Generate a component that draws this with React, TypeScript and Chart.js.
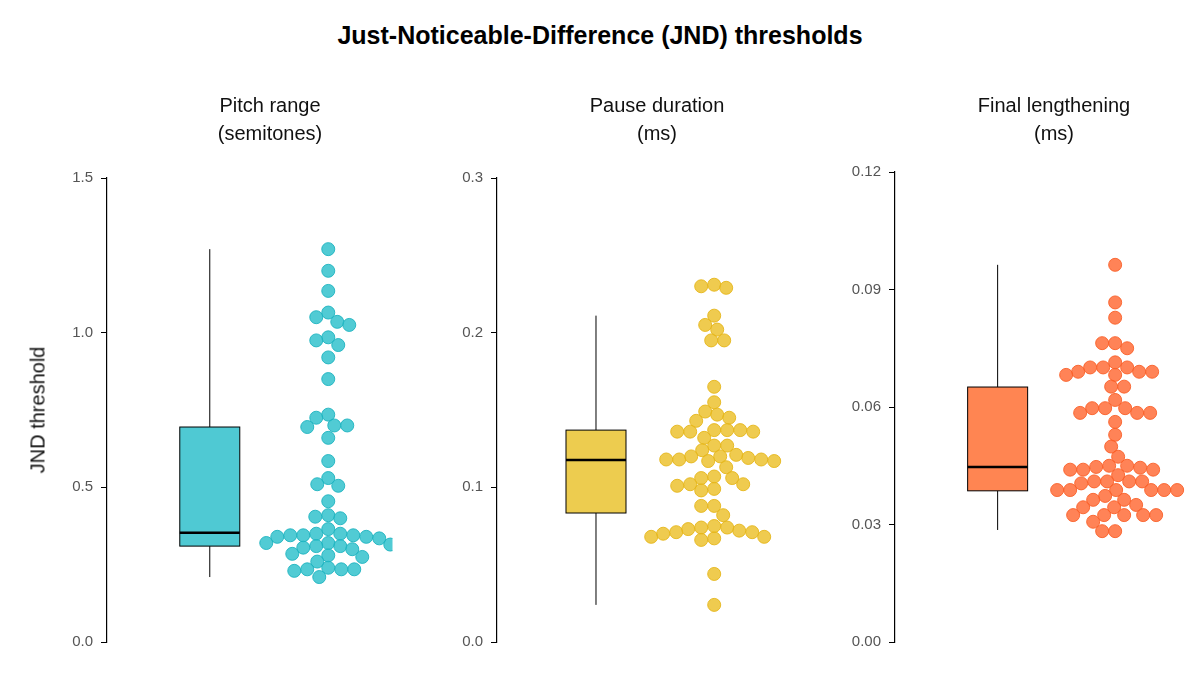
import React, { useEffect, useRef } from "react";
import { Chart, registerables } from "chart.js";
Chart.register(...registerables);

const mainTitle = "Just-Noticeable-Difference (JND) thresholds";
const panelTitles = [["Pitch range", "(semitones)"], ["Pause duration", "(ms)"], ["Final lengthening", "(ms)"]];
const yAxisTitle = "JND threshold";

const pitchValues = [1.27, 1.2, 1.135, 1.065, 1.05, 1.035, 1.025, 0.985, 0.975, 0.96, 0.92, 0.85, 0.735, 0.725, 0.7, 0.7, 0.695, 0.66, 0.585, 0.53, 0.51, 0.505, 0.455, 0.41, 0.405, 0.4, 0.365, 0.35, 0.35, 0.345, 0.345, 0.34, 0.34, 0.345, 0.335, 0.32, 0.32, 0.315, 0.31, 0.31, 0.305, 0.3, 0.285, 0.28, 0.275, 0.26, 0.235, 0.235, 0.23, 0.24, 0.235, 0.21];
const pauseValues = [0.23, 0.231, 0.229, 0.211, 0.205, 0.202, 0.195, 0.195, 0.165, 0.155, 0.149, 0.147, 0.145, 0.143, 0.137, 0.136, 0.137, 0.136, 0.137, 0.136, 0.132, 0.127, 0.127, 0.124, 0.119, 0.12, 0.117, 0.118, 0.12, 0.118, 0.121, 0.117, 0.118, 0.113, 0.107, 0.106, 0.106, 0.102, 0.101, 0.102, 0.099, 0.098, 0.088, 0.088, 0.082, 0.071, 0.074, 0.067, 0.072, 0.068, 0.075, 0.071, 0.068, 0.074, 0.066, 0.073, 0.07, 0.044, 0.024];
const finalValues = [0.0963, 0.0867, 0.0828, 0.0763, 0.0763, 0.075, 0.0714, 0.0701, 0.0701, 0.0701, 0.069, 0.069, 0.069, 0.0682, 0.0682, 0.0652, 0.0652, 0.0618, 0.0597, 0.0597, 0.0597, 0.0585, 0.0585, 0.0585, 0.0562, 0.0529, 0.0499, 0.0473, 0.045, 0.045, 0.0447, 0.044, 0.044, 0.044, 0.0445, 0.0426, 0.041, 0.041, 0.041, 0.0405, 0.041, 0.0388, 0.0388, 0.0388, 0.0388, 0.0388, 0.0388, 0.0373, 0.0363, 0.0363, 0.035, 0.0344, 0.0344, 0.0324, 0.0324, 0.0324, 0.0324, 0.0324, 0.0307, 0.0283, 0.0283];

// [lowerWhisker, q1, median, q3, upperWhisker]
const pitchBox = [0.21, 0.31, 0.353, 0.695, 1.27];
const pauseBox = [0.024, 0.0834, 0.1177, 0.137, 0.211];
const finalBox = [0.0286, 0.0386, 0.0447, 0.0651, 0.0963];

const yMax = [1.5, 0.3, 0.12];
const yStep = [0.5, 0.1, 0.03];
const yDecimals = [1, 1, 2];

const pointColors = ["rgba(38,190,201,0.8)", "rgba(235,190,35,0.8)", "rgba(255,100,45,0.8)"];
const pointBorders = ["rgba(30,180,192,0.9)", "rgba(230,182,25,0.9)", "rgba(250,95,40,0.9)"];
const boxColors = ["#4FC9D3", "#EDCC4F", "#FF8552"];

const panels = [
  { values: pitchValues, box: pitchBox, axisX: 107, top: 178, boxX: 0.36, swarmX: 0.775 },
  { values: pauseValues, box: pauseBox, axisX: 97, top: 178, boxX: 0.335, swarmX: 0.735 },
  { values: finalValues, box: finalBox, axisX: 95, top: 172, boxX: 0.345, swarmX: 0.74 },
];

const RADIUS = 6.5;

function Panel({ idx }: { idx: number }) {
  const ref = useRef<HTMLCanvasElement>(null);
  useEffect(() => {
    const p = panels[idx];
    const boxPlugin = {
      id: "box",
      beforeDatasetsDraw(chart: any) {
        const ctx = chart.ctx;
        const xs = chart.scales.x, ys = chart.scales.y;
        const cx = xs.getPixelForValue(p.boxX);
        const hw = 30;
        const [lo, q1, med, q3, hi] = p.box.map((v: number) => ys.getPixelForValue(v));
        ctx.save();
        ctx.strokeStyle = "#000";
        ctx.lineWidth = 1;
        ctx.beginPath();
        ctx.moveTo(cx, hi); ctx.lineTo(cx, q3);
        ctx.moveTo(cx, q1); ctx.lineTo(cx, lo);
        ctx.stroke();
        ctx.fillStyle = boxColors[idx];
        ctx.fillRect(cx - hw, q3, 2 * hw, q1 - q3);
        ctx.strokeRect(cx - hw, q3, 2 * hw, q1 - q3);
        ctx.lineWidth = 2.5;
        ctx.beginPath();
        ctx.moveTo(cx - hw, med); ctx.lineTo(cx + hw, med);
        ctx.stroke();
        ctx.restore();
      },
    };
    const chart = new Chart(ref.current!, {
      type: "scatter",
      data: {
        datasets: [{
          data: p.values.map((v) => ({ x: p.swarmX, y: v })),
          backgroundColor: pointColors[idx],
          borderColor: pointBorders[idx],
          borderWidth: 1,
          pointRadius: RADIUS,
        }],
      },
      options: {
        animation: false,
        responsive: false,
        maintainAspectRatio: false,
        layout: { padding: { top: p.top, bottom: 37, left: 0, right: 0 } },
        plugins: { legend: { display: false }, tooltip: { enabled: false } },
        scales: {
          x: { type: "linear", min: 0, max: 1, display: false },
          y: {
            type: "linear", min: 0, max: yMax[idx],
            afterFit: (s: any) => { s.width = p.axisX; },
            afterBuildTicks: (s: any) => {
              const t = [];
              for (let v = 0; v <= yMax[idx] + 1e-9; v += yStep[idx]) t.push({ value: +v.toFixed(4) });
              s.ticks = t;
            },
            ticks: {
              color: "#555",
              font: { family: "Arial, Liberation Sans", size: 15 },
              padding: 8,
              callback: (v: any) => Number(v).toFixed(yDecimals[idx]),
            },
            grid: { drawOnChartArea: false, color: "#000", tickLength: 6 },
            border: { color: "#000", width: 1.2 },
          },
        },
      },
      plugins: [boxPlugin],
    });
    // beeswarm layout in pixel space
    const xs = chart.scales.x, ys = chart.scales.y;
    const cx = xs.getPixelForValue(p.swarmX);
    const minD = RADIUS * 2 * 0.95;
    const order = p.values.map((v, i) => ({ i, py: ys.getPixelForValue(v) })).sort((a, b) => a.py - b.py);
    const placed: { x: number; y: number }[] = [];
    const out: { x: number; y: number }[] = p.values.map((v) => ({ x: p.swarmX, y: v }));
    for (const o of order) {
      let best = 0;
      for (let k = 0; k < 400; k++) {
        const off = (k % 2 === 0 ? 1 : -1) * Math.ceil(k / 2);
        const ok = placed.every((q) => Math.hypot(q.x - (cx + off), q.y - o.py) >= minD);
        if (ok) { best = off; break; }
      }
      placed.push({ x: cx + best, y: o.py });
      out[o.i] = { x: xs.getValueForPixel(cx + best), y: p.values[o.i] };
    }
    chart.data.datasets[0].data = out as any;
    chart.update();
    return () => chart.destroy();
  }, [idx]);
  return <canvas ref={ref} width={400} height={679} style={{ width: 400, height: 679, display: "block" }} />;
}

export default function App() {
  const font = "Arial, 'Liberation Sans', sans-serif";
  return (
    <div style={{ position: "fixed", left: 0, top: 0, width: 1200, height: 679, background: "#fff", fontFamily: font }}>
      <div style={{ position: "absolute", top: 21, left: 0, width: 1200, textAlign: "center", fontWeight: "bold", fontSize: 25, color: "#000" }}>{mainTitle}</div>
      <div style={{ position: "absolute", top: 0, left: 0, display: "flex" }}>
        {[0, 1, 2].map((i) => <Panel key={i} idx={i} />)}
      </div>
      {panelTitles.map((t, i) => (
        <div key={i} style={{ position: "absolute", top: 91, left: [270, 657, 1054][i] - 150, width: 300, textAlign: "center", fontSize: 20, lineHeight: "28px", color: "#111" }}>
          {t[0]}<br />{t[1]}
        </div>
      ))}
      <div style={{ position: "absolute", left: 38, top: 410, transform: "translate(-50%,-50%) rotate(-90deg)", fontSize: 20, whiteSpace: "nowrap", color: "#111" }}>{yAxisTitle}</div>
    </div>
  );
}
